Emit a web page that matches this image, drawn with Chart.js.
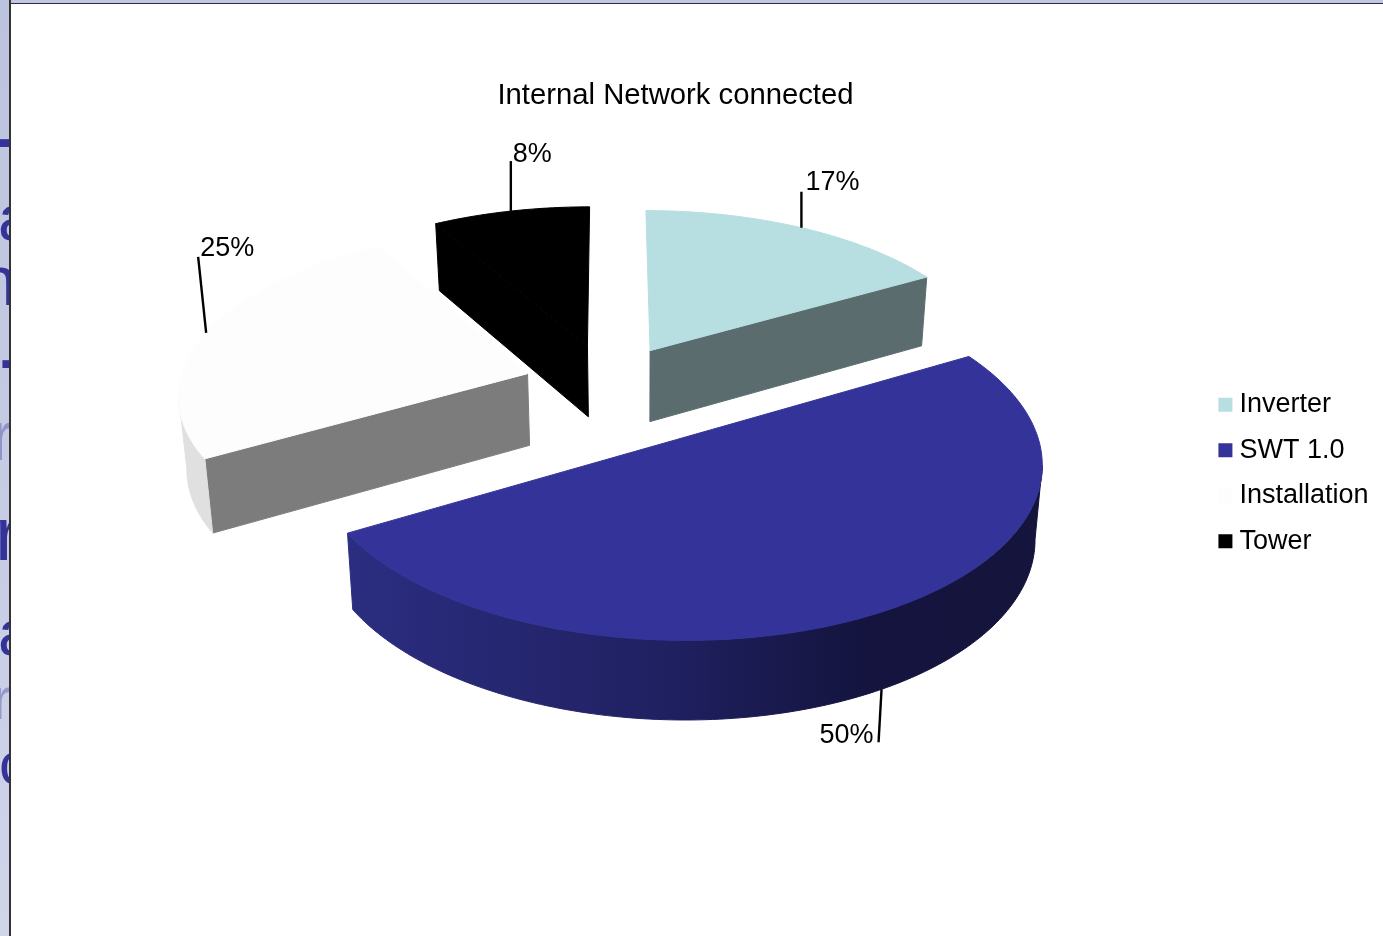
<!DOCTYPE html>
<html>
<head>
<meta charset="utf-8">
<title>Internal Network connected</title>
<script src="https://cdn.jsdelivr.net/npm/chart.js@4"></script>
<style>
    html, body { margin: 0; padding: 0; width: 1383px; height: 936px; overflow: hidden; background: #fff; }
    #scoreChart { position: absolute; left: 0; top: 0; }
    #strip {
        position: absolute; left: 0; top: 0; width: 9px; height: 936px; overflow: hidden;
        background: linear-gradient(#bcc3de, #c6cbe4 50%, #d0d5ea);
        border-right: 2px solid #333;
    }
    #topbar { position: absolute; left: 0; top: 0; width: 1383px; height: 3px; background: #c2c7e0; border-bottom: 1px solid #2b2b4d; }
    #strip span {
        position: absolute; font-family: "Liberation Sans", sans-serif; color: #333399; line-height: 1;
    }
</style>
</head>
<body>
<canvas id="scoreChart" width="1383" height="936"></canvas>
<div id="topbar"></div>
<div id="strip"></div>
<script>
const categories = ["Inverter", "SWT 1.0", "Installation", "Tower"];
const shares = [16.7, 50, 25, 8.3];
const explode = [84, 131, 85, 86];
const chartTitle = "Internal Network connected";

const topColors = ["#b7dee0", "#333399", "#fdfdfd", "#000000"];
const faceColors = ["#5a6c6e", "#2b2d80", "#7c7c7c", "#000000"];
const wallColors = ["#5a6c6e", null, "#e0e0e0", "#000000"];

// leader line from slice edge, then where its label sits relative to the line end
const leaderVec = [[0, -36], [-3, 53], [-8, -76], [0, -50]];
const labelOff = [[4, -9], [-59, -7], [2, -8], [2, -7]];

// letters of the slide behind the chart, only the part inside the strip shows
const stripText = [["-", 85, 100, -10, 1], ["a", 185, 65, -2, 1], ["n", 246, 70, -22, 1], ["-", 306, 100, -2, 1],
    ["r", 401, 70, -9, 0.35], ["r", 496, 76, -5, 1], ["a", 600, 65, -2, 1], ["r", 669, 60, -8, 0.35], ["c", 734, 60, -1, 1]];

// projection of the pie plane
const CX = 609, CY = 384, VX = 640;
const TILT = 0.47, CAMERA = 3000, DEPTH = 72;

function persp(v) { return 1 / (1 - v / CAMERA); }

function topPoint(u, v) {
    let f = persp(v);
    return [CX + u * f, CY + TILT * v * f];
}

function basePoint(u, v) {
    let f = persp(v);
    let p = topPoint(u, v);
    return [VX + (p[0] - VX) * 0.982, p[1] + DEPTH * Math.pow(f, 0.6)];
}

function fillPoly(ctx, pts, color) {
    ctx.beginPath();
    pts.forEach((p, i) => i ? ctx.lineTo(p[0], p[1]) : ctx.moveTo(p[0], p[1]));
    ctx.closePath();
    ctx.fillStyle = color;
    ctx.fill();
    // closes the hairline seams between top and walls
    ctx.strokeStyle = color;
    ctx.lineWidth = 1;
    ctx.stroke();
}

// outline of one slice in plane coordinates, from the library's arc element
function sliceOutline(arc) {
    let p = arc.getProps(["startAngle", "endAngle", "outerRadius"], true);
    let mid = (p.startAngle + p.endAngle) / 2;
    let ox = arc.options.offset * Math.cos(mid), oy = arc.options.offset * Math.sin(mid);
    let n = Math.ceil((p.endAngle - p.startAngle) / (Math.PI / 180));
    let rim = [];
    for (let i = 0; i <= n; i++) {
        let a = p.startAngle + (p.endAngle - p.startAngle) * i / n;
        rim.push([ox + p.outerRadius * Math.cos(a), oy + p.outerRadius * Math.sin(a)]);
    }
    return { apex: [ox, oy], rim: rim, mid: mid, ox: ox, oy: oy, r: p.outerRadius };
}

function drawWall(ctx, a, b, color) {
    let pts = [topPoint(a[0], a[1]), topPoint(b[0], b[1]), basePoint(b[0], b[1]), basePoint(a[0], a[1])];
    if (pts[1][0] < pts[0][0] - 6) fillPoly(ctx, pts, color);
}

function drawRimWall(ctx, rim, color) {
    // only the stretch moving right to left on screen faces the viewer
    let run = rim.filter((q, i) => {
        let next = rim[i + 1] || q, prev = rim[i - 1] || q;
        return topPoint(next[0], next[1])[0] < topPoint(q[0], q[1])[0] || topPoint(q[0], q[1])[0] < topPoint(prev[0], prev[1])[0];
    });
    if (run.length < 2) return;
    let pts = run.map(q => topPoint(q[0], q[1]));
    let low = run.map(q => basePoint(q[0], q[1])).reverse();
    let fill = color;
    if (!fill) {
        let g = ctx.createLinearGradient(350, 0, 1035, 0);
        g.addColorStop(0, "#2b2d80");
        g.addColorStop(0.45, "#202162");
        g.addColorStop(0.75, "#14143f");
        g.addColorStop(1, "#14143c");
        fill = g;
    }
    fillPoly(ctx, pts.concat(low), fill);
}

const pie3d = {
    id: "pie3d",
    afterLayout(chart) {
        chart.titleBlock.left -= 16;
        chart.titleBlock.right -= 16;
        chart.legend.left -= 4.5;
        chart.legend.right -= 4.5;
        chart.legend.top += 5;
        chart.legend.bottom += 5;
    },
    beforeDatasetDraw(chart, args) {
        let ctx = chart.ctx;
        let arcs = chart.getDatasetMeta(args.index).data;
        let outlines = arcs.map(sliceOutline);
        ctx.save();
        [3, 0, 2, 1].forEach(i => {
            let o = outlines[i];
            let first = o.rim[0], last = o.rim[o.rim.length - 1];
            drawWall(ctx, o.apex, first, faceColors[i]);
            drawWall(ctx, last, o.apex, faceColors[i]);
            drawRimWall(ctx, o.rim, wallColors[i]);
            fillPoly(ctx, [topPoint(o.apex[0], o.apex[1])].concat(o.rim.map(q => topPoint(q[0], q[1]))), topColors[i]);
        });
        // leaders and percentages
        ctx.strokeStyle = "#000";
        ctx.lineWidth = 2.4;
        ctx.fillStyle = "#000";
        ctx.font = "27px 'Liberation Sans'";
        ctx.textBaseline = "middle";
        outlines.forEach((o, i) => {
            let u = o.ox + o.r * Math.cos(o.mid), v = o.oy + o.r * Math.sin(o.mid);
            let s = i === 1 ? basePoint(u, v) : topPoint(u, v);
            let e = [s[0] + leaderVec[i][0], s[1] + leaderVec[i][1]];
            ctx.beginPath();
            ctx.moveTo(s[0], s[1]);
            ctx.lineTo(e[0], e[1]);
            ctx.stroke();
            ctx.fillText(Math.round(shares[i]) + "%", e[0] + labelOff[i][0], e[1] + labelOff[i][1]);
        });
        ctx.restore();
        return false;
    }
};

let ctx = document.getElementById("scoreChart").getContext("2d");
new Chart(ctx, {
    type: "pie",
    data: {
        labels: categories,
        datasets: [{
            data: shares,
            backgroundColor: topColors,
            borderWidth: 0,
            offset: explode
        }]
    },
    options: {
        responsive: false,
        animation: false,
        radius: 348,
        plugins: {
            title: {
                display: true,
                text: chartTitle,
                color: "#000",
                font: { family: "'Liberation Sans'", size: 29.25, weight: "normal" },
                padding: { top: 78, bottom: 0 }
            },
            legend: {
                position: "right",
                labels: {
                    color: "#000",
                    usePointStyle: true,
                    pointStyle: "rect",
                    boxWidth: 1,
                    boxHeight: 14,
                    padding: 18.5,
                    font: { family: "'Liberation Sans'", size: 27, lineHeight: 1.2 }
                }
            },
            tooltip: { enabled: false }
        }
    },
    plugins: [pie3d]
});

let strip = document.getElementById("strip");
stripText.forEach(t => {
    let s = document.createElement("span");
    s.textContent = t[0];
    s.style.top = t[1] + "px";
    s.style.fontSize = t[2] + "px";
    s.style.left = t[3] + "px";
    s.style.opacity = t[4];
    strip.appendChild(s);
});
</script>
</body>
</html>
